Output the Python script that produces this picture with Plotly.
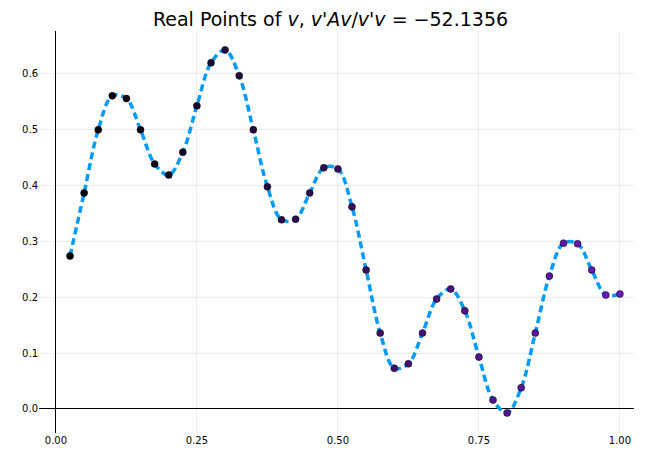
import plotly.graph_objects as go

x = [0.025*k for k in range(1, 41)]
y = [0.274,0.387,0.500,0.561,0.556,0.500,0.439,0.419,0.460,0.543,
     0.620,0.643,0.597,0.500,0.398,0.339,0.340,0.387,0.432,0.430,
     0.362,0.249,0.136,0.073,0.081,0.136,0.197,0.215,0.176,0.093,
     0.016,-0.007,0.038,0.136,0.238,0.297,0.296,0.249,0.204,0.206]
xticks = [0, 0.25, 0.5, 0.75, 1.0]
xticklabels = ["0.00", "0.25", "0.50", "0.75", "1.00"]
yticks = [0, 0.1, 0.2, 0.3, 0.4, 0.5, 0.6]

fig = go.Figure()
fig.add_trace(go.Scatter(x=x, y=y, mode="lines",
    line=dict(color="#009AFA", width=3.5, dash="7px,4px", shape="spline"), showlegend=False))
fig.add_trace(go.Scatter(x=x, y=y, mode="markers",
    marker=dict(size=7, color=list(range(len(x))),
                colorscale=[[0, "#000000"], [1, "#6a1cb8"]],
                line=dict(width=0.5, color="black")), showlegend=False))
fig.update_layout(
    width=645, height=460, paper_bgcolor="white", plot_bgcolor="white",
    margin=dict(l=31, r=19, t=23, b=35),
    title=dict(text="Real Points of <i>v</i>, <i>v</i>'<i>Av</i>/<i>v</i>'<i>v</i> = −52.1356",
               x=0.5, xanchor="center", y=0.99, yanchor="top",
               font=dict(size=19, color="black", family="DejaVu Sans")),
    font=dict(family="DejaVu Sans", size=10, color="black"),
)
fig.update_xaxes(range=[-0.030, 1.025], tickvals=xticks, ticktext=xticklabels,
    showgrid=True, gridcolor="#ececec", zeroline=True, zerolinecolor="black",
    zerolinewidth=1, showline=False, ticks="")
fig.update_yaxes(range=[-0.043, 0.677], tickvals=yticks, tickformat=".1f",
    showgrid=True, gridcolor="#ececec", zeroline=True, zerolinecolor="black",
    zerolinewidth=1, showline=False, ticks="")
fig.write_html("out.html")
